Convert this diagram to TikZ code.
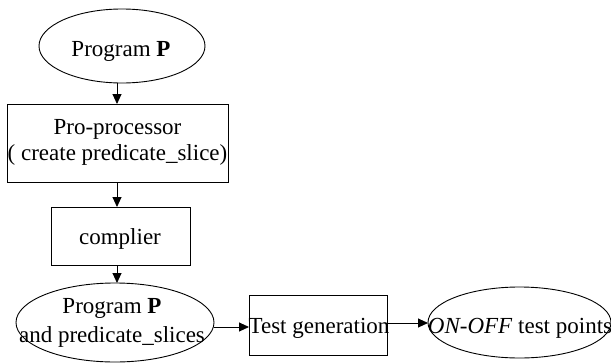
\documentclass[tikz,border=0pt]{standalone}
\usepackage{fontspec}
\setmainfont{Liberation Serif}
\usetikzlibrary{arrows.meta,shapes.geometric}
\begin{document}
\begin{tikzpicture}[x=1pt,y=-1pt,
  shp/.style={draw=black,line width=0.9pt,inner sep=0pt,outer sep=0pt},
  ell/.style={shp,ellipse},
  box/.style={shp,rectangle},
  txt/.style={inner sep=0pt,font=\fontsize{23}{26}\selectfont,align=center},
  arr/.style={line width=0.9pt,-{Triangle[length=10pt,width=9pt]}}]
\useasboundingbox (0,0) rectangle (611,362);
% shapes
\node[ell,minimum width=166pt,minimum height=74pt] (e1) at (122,46) {};
\node[box,minimum width=221pt,minimum height=78pt] (b1) at (117.5,143) {};
\node[box,minimum width=139pt,minimum height=58pt] (b2) at (120.5,236) {};
\node[ell,minimum width=198pt,minimum height=79pt] (e2) at (115,322.5) {};
\node[box,minimum width=138pt,minimum height=60pt] (b3) at (318,325.5) {};
\node[ell,minimum width=183pt,minimum height=71pt] (e3) at (519.5,322.5) {};
% texts
\node[txt,anchor=base] (t1) at (121,56) {Program \textbf{P}};
\node[txt] (t2) at (117.5,142.7) {Pro-processor\\( create predicate\_slice)};
\node[txt,anchor=base] (t3) at (120,244) {complier};
\node[txt,font=\fontsize{23}{29}\selectfont] (t4) at (112,323) {Program \textbf{P}\\and predicate\_slices};
\node[txt,anchor=base] (t5) at (319,333) {Test generation};
\node[txt,anchor=base] (t6) at (520,333) {\textit{ON-OFF} test points};
% connectors
\coordinate (v1) at (117,0);
\draw[arr] (e1.south -| v1) -- (b1.north -| v1);
\draw[arr] (b1.south -| v1) -- (b2.north -| v1);
\draw[arr] (b2.south -| v1) -- (e2.north -| v1);
\coordinate (a1) at (e2.east |- 0,327);
\draw[arr] (a1) -- (a1 -| b3.west);
\coordinate (a2) at (b3.east |- 0,323);
\draw[arr] (a2) -- (a2 -| e3.west);
\end{tikzpicture}
\end{document}
